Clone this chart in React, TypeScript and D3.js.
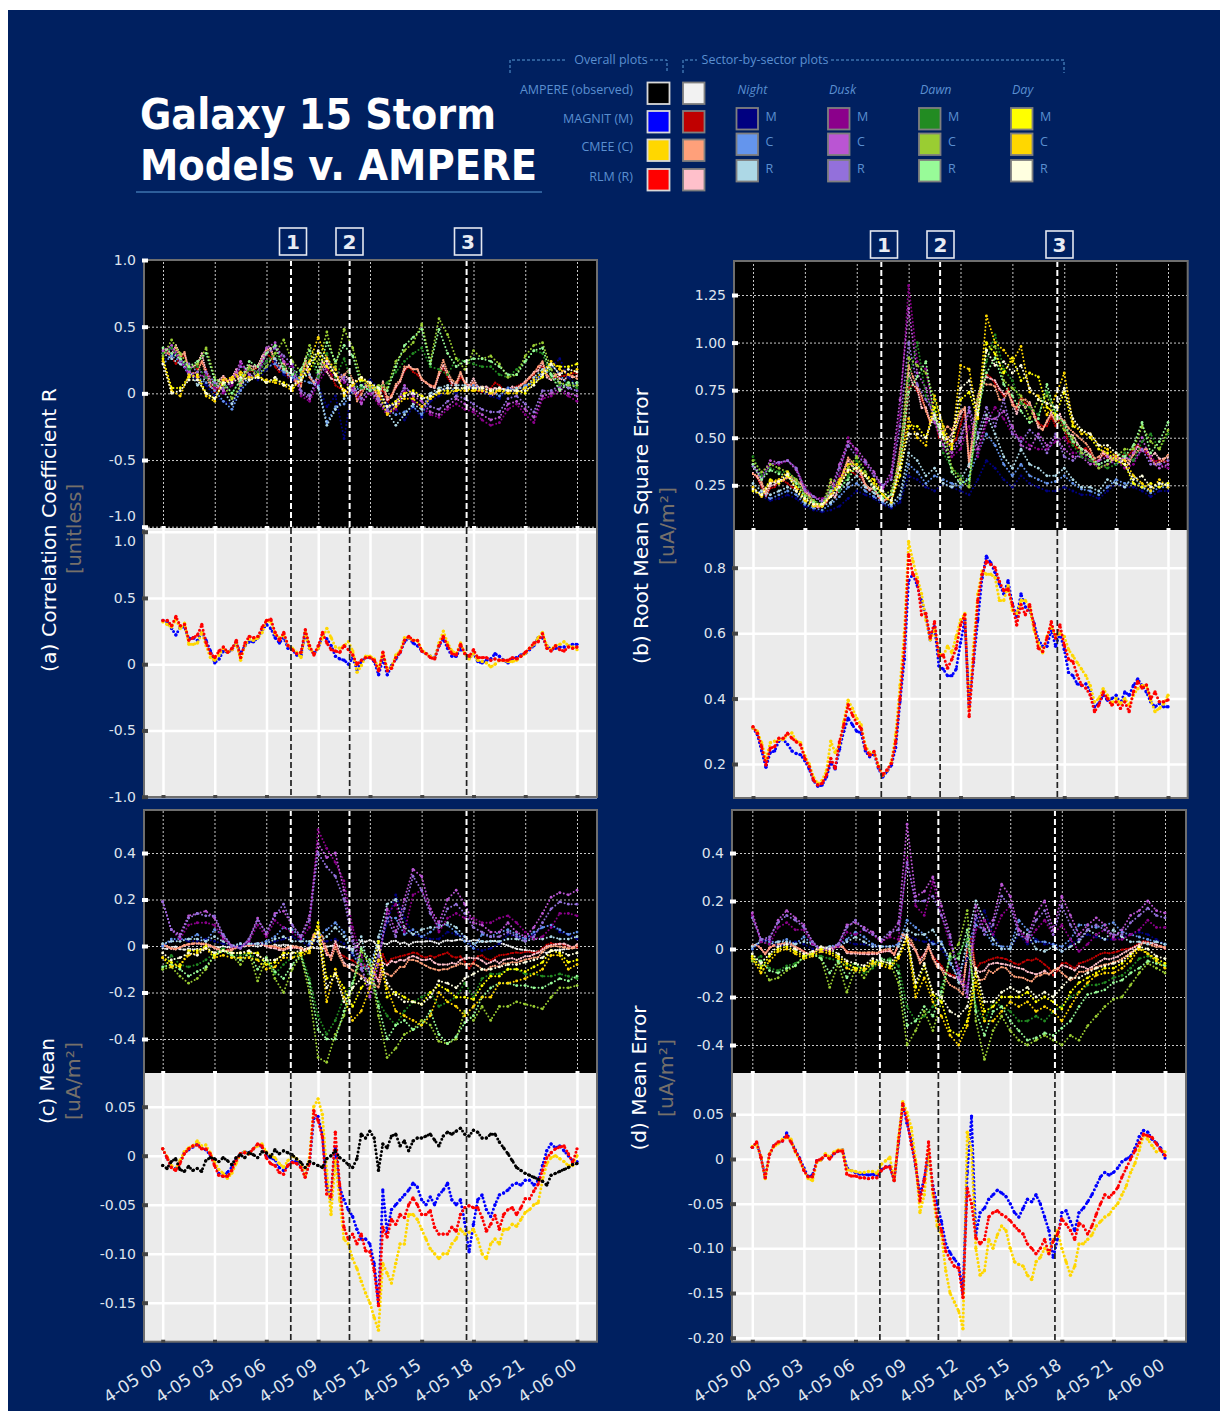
import React, {useRef, useEffect} from 'react'
import * as d3 from 'd3'

// colours, same names as the legend
const NAVY = "#002060"
const LEGEND_BLUE = "#5a8fd0"
const overallColors = {amp: "#000000", magnit: "#0000ff", cmee: "#ffd700", rlm: "#ff0000"}
const overallDarkColors = {amp: "#f2f2f2", magnit: "#c00000", cmee: "#ffa07a", rlm: "#ffc0cb"}
const sectorColors = {
	nightM: "#000080", nightC: "#6495ed", nightR: "#add8e6",
	duskM: "#8b008b", duskC: "#ba55d3", duskR: "#9370db",
	dawnM: "#228b22", dawnC: "#9acd32", dawnR: "#98fb98",
	dayM: "#ffff00", dayC: "#ffd700", dayR: "#ffffe0"
}

const hourTicks = [0, 3, 6, 9, 12, 15, 18, 21, 24]
const hourLabels = ["4-05 00", "4-05 03", "4-05 06", "4-05 09", "4-05 12", "4-05 15", "4-05 18", "4-05 21", "4-06 00"]
const eventHours = [7.42, 10.82, 17.6]

// overall series, every 15 minutes
const corrM = [33,32,27,22,28,28,19,20,18,24,18,10,1,4,10,9,11,16,8,14,17,17,20,26,30,27,20,16,20,12,11,7,7,24,12,8,12,22,19,14,6,4,3,0,5,-4,2,5,5,2,-8,4,-8,-1,4,9,17,20,16,14,10,8,6,5,14,19,12,6,6,12,8,5,8,2,1,3,4,8,6,3,1,4,5,7,8,11,14,20,20,14,11,12,13,13,14,15,15]
const corrC = [32,30,28,34,27,31,15,15,16,24,14,5,3,7,12,9,11,16,3,14,19,18,20,24,33,32,23,20,22,14,12,9,5,24,12,8,12,20,27,20,13,12,14,17,10,-6,-1,6,6,4,-3,8,-3,-2,7,10,20,20,18,18,11,8,6,5,16,25,16,10,8,16,8,4,8,3,2,1,-2,0,3,3,2,2,3,6,8,12,15,20,24,14,11,14,15,17,14,13,11]
const corrR = [33,33,29,36,29,30,18,20,22,30,16,8,5,10,13,9,12,18,5,16,21,20,21,28,33,34,24,18,24,14,11,8,9,26,14,7,14,24,16,11,10,9,14,11,7,0,3,5,5,3,-5,9,-5,-3,5,9,18,21,18,18,10,8,5,4,14,21,14,8,7,15,8,6,11,5,5,5,3,4,3,3,3,5,4,6,9,12,16,17,23,12,10,14,11,10,13,12,13]

const rmsM = [310,290,240,190,235,240,270,275,260,240,232,228,210,185,150,132,136,160,205,185,245,300,340,320,300,295,240,222,232,188,160,178,196,250,390,520,760,780,745,700,650,580,620,500,490,470,470,490,570,640,380,510,640,770,835,815,785,750,720,760,690,650,720,680,670,630,580,560,560,610,560,600,550,480,470,445,440,445,425,375,385,410,395,400,410,385,420,410,440,460,440,420,390,375,385,375,375]
const rmsC = [310,300,265,215,265,270,275,275,290,295,270,265,225,200,160,140,150,180,270,235,260,330,395,370,340,320,255,235,235,195,165,180,205,290,440,600,880,820,770,720,640,580,610,540,530,560,540,590,640,660,370,560,720,790,780,780,770,700,700,745,670,660,700,700,680,610,570,540,590,620,590,600,590,550,530,510,490,470,440,390,400,430,410,385,400,385,400,380,410,430,440,440,395,360,370,385,410]
const rmsR = [314,294,253,197,248,253,279,279,294,279,268,258,217,192,151,136,141,166,217,187,268,319,381,350,324,309,248,227,238,192,166,182,202,268,400,554,840,780,758,656,660,585,635,530,533,493,520,554,625,656,345,520,700,780,820,810,800,758,730,735,687,625,687,656,687,625,554,544,585,635,585,625,564,520,513,472,442,432,411,360,380,420,400,380,390,370,390,360,420,452,432,442,400,420,390,390,396]

const meanAmp = [-10,-13,-6,-3,-14,-16,-11,-15,-13,-16,-5,-2,-3,-6,-2,-5,-9,-2,1,-2,3,1,-2,4,3,-1,6,2,5,3,1,-3,-7,-12,-6,-8,-10,-12,-3,0,5,-2,-5,-9,-12,-3,22,18,25,18,-15,12,8,20,22,10,15,5,15,18,18,20,22,16,10,20,24,22,25,28,22,20,26,24,18,18,22,22,14,8,2,-5,-12,-15,-18,-20,-22,-24,-26,-30,-20,-18,-16,-14,-12,-9,-8]
const meanM = [7,-2,-11,-13,-6,3,6,9,12,8,6,1,-7,-18,-21,-17,-12,-4,2,4,3,7,11,9,0,-2,-4,-12,-15,-10,-6,-6,-10,-20,-8,38,40,22,-30,-44,8,-32,-45,-55,-62,-75,-85,-85,-90,-110,-150,-35,-78,-55,-50,-45,-40,-35,-28,-32,-45,-50,-42,-50,-40,-35,-28,-45,-50,-45,-68,-98,-70,-45,-40,-55,-62,-50,-40,-38,-35,-30,-28,-30,-25,-25,-30,-25,-10,5,12,8,10,5,0,-5,-6]
const meanC = [7,-1,-10,-14,-5,4,8,10,15,10,11,3,-6,-14,-18,-23,-18,-8,2,4,2,7,10,12,4,0,-2,-8,-12,-5,0,-3,-8,-20,-2,50,58,42,-15,-60,-5,-45,-85,-90,-105,-115,-128,-140,-150,-165,-178,-110,-120,-130,-110,-90,-90,-60,-60,-65,-75,-85,-95,-100,-105,-100,-100,-90,-85,-75,-80,-78,-75,-85,-100,-105,-90,-85,-90,-75,-75,-70,-72,-65,-58,-55,-50,-48,-25,-8,-2,0,-3,-6,-10,-10,0]
const meanR = [7,-2,-12,-15,-8,2,7,10,11,7,7,2,-10,-20,-21,-21,-15,-5,2,3,2,7,12,10,-2,-8,-10,-17,-19,-10,-7,-8,-12,-22,-8,46,36,19,-39,-42,24,-29,-73,-85,-80,-90,-80,-97,-98,-117,-153,-73,-83,-65,-70,-60,-63,-50,-43,-50,-60,-60,-56,-73,-80,-80,-80,-73,-77,-60,-53,-51,-53,-53,-63,-77,-70,-61,-75,-60,-55,-53,-60,-53,-44,-44,-36,-29,-15,-2,3,7,9,10,2,-7,7]

const errM = [13,18,2,-20,5,15,18,20,29,20,10,1,-10,-20,-18,-2,-1,4,1,6,9,10,-10,-13,-15,-17,-17,-18,-17,-19,-12,-9,-8,-24,18,60,40,20,-8,-40,-22,4,-30,-50,-70,-95,-105,-112,-118,-150,-15,48,-85,-60,-55,-45,-40,-35,-38,-42,-50,-60,-65,-55,-45,-48,-40,-50,-65,-80,-110,-90,-60,-58,-70,-80,-60,-55,-48,-40,-30,-20,-15,-18,-15,-10,-3,0,3,12,25,32,30,22,18,12,1]
const errC = [14,16,3,-22,6,14,17,22,24,22,8,-1,-12,-22,-24,-4,-1,6,2,8,10,10,-12,-13,-14,-15,-15,-14,-14,-16,-6,-2,2,-24,24,64,52,35,-2,-60,-40,10,-40,-75,-85,-125,-150,-160,-170,-190,30,10,-100,-130,-125,-90,-100,-85,-75,-80,-100,-115,-118,-120,-130,-135,-115,-110,-100,-105,-90,-80,-100,-115,-130,-120,-95,-95,-90,-85,-75,-70,-65,-62,-55,-50,-40,-30,-15,-5,10,26,22,15,8,10,8]
const errR = [13,19,2,-21,5,15,19,20,26,19,9,0,-13,-20,-20,-2,0,4,0,6,9,9,-17,-19,-19,-21,-21,-22,-21,-21,-13,-9,-9,-24,20,62,43,16,-6,-47,-24,19,-34,-65,-80,-103,-112,-120,-122,-155,-33,-50,-88,-95,-90,-65,-60,-58,-62,-65,-69,-75,-80,-84,-95,-100,-106,-100,-90,-106,-92,-84,-67,-73,-80,-90,-72,-75,-84,-75,-62,-50,-40,-43,-38,-32,-20,-10,0,9,18,28,26,24,17,10,4]

// sector series, every 30 minutes
const corrNightM = [24,30,26,16,10,6,-2,-6,-8,4,14,10,18,24,14,10,16,14,6,-10,-2,-34,8,6,10,4,-8,-12,-20,-10,-18,-6,-2,2,0,4,4,2,-2,-4,4,0,4,10,14,20,26,12,6]
const corrNightC = [22,28,24,14,12,8,2,-6,-12,2,10,14,20,22,16,12,10,8,6,-22,-10,-8,2,4,6,2,-12,-16,-14,-10,-16,-2,2,4,2,4,6,4,2,-2,4,2,6,8,16,22,14,6,8]
const corrNightR = [30,26,22,18,6,12,8,2,-8,6,12,16,24,26,18,14,12,14,4,-24,-12,-4,4,6,2,-6,-14,-24,-16,-8,-12,0,4,6,6,6,4,2,0,4,2,4,4,12,18,14,8,4,6]
const corrDuskM = [28,34,24,14,12,14,4,0,6,22,12,14,30,34,24,20,-2,-6,8,18,12,8,4,-6,0,-8,-16,-12,2,-6,-10,-16,-18,-12,-8,-12,-14,-20,-24,-22,-12,-8,-16,-22,-4,-2,2,-2,-6]
const corrDuskC = [32,36,26,16,14,12,6,2,10,24,14,16,34,38,24,18,0,-4,12,22,14,10,2,-8,2,-6,-14,-10,6,-2,-6,-14,-16,-10,-4,-8,-12,-16,-20,-18,-8,-6,-12,-18,-2,0,4,0,-2]
const corrDuskR = [30,34,24,22,16,16,8,4,8,20,18,16,30,34,28,22,2,-2,14,20,18,12,6,-4,4,-4,-12,-6,4,0,-2,-10,-12,-6,-2,-4,-8,-12,-14,-14,-4,-2,-8,-14,2,2,6,4,2]
const corrDawnM = [30,34,26,18,20,12,6,8,0,10,18,16,24,30,20,18,10,28,12,30,12,26,6,4,2,4,8,16,24,30,34,20,18,14,26,24,22,20,20,14,12,18,24,32,30,12,6,8,4]
const corrDawnC = [28,40,30,20,22,34,12,6,-4,6,20,12,20,30,40,24,16,36,22,46,20,48,34,10,4,6,4,24,32,38,52,24,56,44,26,18,32,26,28,22,12,14,28,36,38,18,8,6,6]
const corrDawnR = [34,30,26,20,24,30,10,8,0,10,24,20,30,36,18,14,18,32,16,38,24,36,28,6,2,4,2,20,36,42,48,22,48,30,20,24,26,26,24,20,14,14,24,32,34,14,2,8,8]
const corrDayM = [26,4,4,12,14,0,-4,8,10,14,10,14,8,10,8,4,10,18,30,20,14,2,8,10,8,2,-10,-6,0,2,-2,-4,2,2,2,4,2,4,2,2,2,2,0,8,12,22,20,20,22]
const corrDayC = [24,2,-2,14,12,-2,-6,10,12,16,12,12,10,8,6,2,14,24,42,26,18,-2,6,12,6,0,-16,-10,-4,-4,-10,-4,0,0,2,2,2,2,0,2,0,0,4,10,16,24,18,14,18]
const corrDayR = [22,0,2,10,10,0,-4,8,8,12,10,12,8,12,6,6,10,22,32,24,14,0,8,12,8,4,-10,-8,-2,0,-4,-2,2,4,4,4,4,4,2,4,2,2,2,6,14,22,14,18,16]

const rmsNightM = [22,19,17,18,20,18,14,12,11,12,14,18,22,20,18,15,13,16,30,28,24,22,26,24,22,20,28,38,34,28,24,30,26,24,22,22,24,22,20,20,18,22,26,24,24,22,19,22,22]
const rmsNightC = [23,21,18,20,22,20,15,13,12,15,19,24,26,22,19,16,14,18,36,32,26,30,28,26,24,30,42,52,46,36,30,36,30,28,26,27,30,26,23,22,20,24,28,26,26,24,21,24,24]
const rmsNightR = [26,22,20,22,24,22,16,14,14,16,22,26,30,24,21,17,15,20,42,38,30,34,26,24,28,36,50,62,52,40,34,44,36,34,30,30,34,28,24,24,22,28,26,24,30,24,22,26,26]
const rmsDuskM = [36,28,36,36,38,34,24,19,18,20,30,50,42,36,30,23,30,62,130,90,86,60,44,40,44,56,40,58,66,60,52,50,46,44,44,48,50,42,42,38,34,36,38,34,36,44,40,36,34]
const rmsDuskC = [36,30,38,37,38,33,22,19,17,22,36,48,44,38,32,24,32,70,118,84,76,58,46,42,48,64,44,60,60,64,56,46,44,52,46,50,44,40,40,36,38,40,40,38,42,50,38,34,36]
const rmsDuskR = [35,28,36,37,38,34,23,19,16,20,34,46,40,37,30,25,28,56,100,78,70,62,50,44,50,66,52,66,56,70,52,48,54,50,42,52,40,38,42,40,36,38,36,40,38,44,36,36,38]
const rmsDawnM = [40,30,34,32,32,28,20,17,15,24,22,30,38,30,24,19,20,36,80,100,72,64,42,34,30,26,60,90,104,86,80,68,66,62,74,64,56,46,40,38,36,34,36,42,38,48,52,44,52]
const rmsDawnC = [38,32,36,34,32,28,20,17,14,28,26,34,40,32,25,20,22,40,92,88,84,70,56,34,28,24,70,96,98,80,76,72,60,70,72,60,54,50,42,40,34,36,40,44,44,56,48,44,54]
const rmsDawnR = [36,28,33,31,30,26,19,16,14,22,24,28,36,30,23,18,20,34,74,82,90,60,50,32,26,28,64,84,92,78,72,64,58,60,78,62,58,48,44,40,36,38,42,40,46,58,42,48,58]
const rmsDayM = [22,20,28,26,30,24,18,15,15,19,26,32,34,30,28,20,17,30,56,56,50,66,52,44,70,74,60,100,94,84,92,80,84,82,66,62,74,56,54,50,44,42,38,36,26,24,26,24,26]
const rmsDayC = [24,19,27,28,32,22,17,14,14,20,28,36,36,30,26,20,16,36,60,50,46,72,56,46,88,86,60,114,100,96,90,98,74,72,62,72,84,58,52,52,46,44,40,38,30,26,22,28,24]
const rmsDayR = [23,20,26,27,31,22,18,15,15,19,24,33,34,30,24,22,17,34,52,52,50,62,50,48,76,80,62,96,88,90,84,88,76,70,68,66,76,60,54,52,46,46,42,36,28,30,24,26,25]

const meanNightM = [0,2,3,2,2,3,2,1,0,0,1,1,1,2,3,4,2,0,2,2,3,1,-4,-8,-10,-4,10,22,12,5,4,3,3,6,5,4,-1,-2,-1,1,5,4,3,5,8,9,6,5,3]
const meanNightC = [0,3,3,3,5,2,7,5,0,1,1,1,2,4,8,7,4,1,4,7,10,6,-3,-10,-8,2,12,12,5,7,4,6,9,9,6,2,-1,5,4,6,7,5,3,6,8,9,7,5,6]
const meanNightR = [1,2,2,3,3,2,4,2,0,1,1,1,1,3,4,2,2,2,2,4,8,4,-2,4,-12,4,18,20,8,5,7,8,8,10,8,4,1,2,2,2,3,3,2,3,3,4,3,3,4]
const meanDuskM = [19,7,3,9,10,10,9,3,0,-1,2,9,4,11,8,6,3,8,50,42,36,28,8,-4,-14,-6,14,18,6,22,24,16,6,12,14,12,12,10,10,12,13,10,6,3,4,8,14,14,13]
const meanDuskC = [19,7,5,13,14,15,12,4,0,-1,3,12,5,14,15,9,4,13,44,38,40,24,4,-8,-22,-8,16,6,20,33,30,16,10,20,24,18,10,9,6,6,10,6,4,8,14,21,23,22,24]
const meanDuskR = [19,7,4,12,14,13,13,5,0,-1,3,11,6,13,18,9,4,11,40,34,30,20,2,-10,-18,-4,12,4,16,30,24,14,8,16,18,14,8,6,4,4,6,4,2,4,10,16,19,18,18]
const meanDawnM = [-10,-4,-8,-9,-8,-6,-3,-1,-4,-4,-3,-6,-6,-12,-8,-5,-3,-14,-30,-38,-32,-22,-16,-6,-14,-24,-30,-34,-28,-24,-22,-20,-26,-24,-22,-16,-22,-14,-12,-12,-10,-10,-12,-12,-13,-13,-12,-13,-14]
const meanDawnC = [-10,-9,-13,-16,-14,-10,-4,-2,-4,-8,-3,-15,-5,-14,-20,-10,-4,-20,-48,-50,-38,-30,-18,-2,-8,-30,-48,-44,-38,-36,-32,-34,-41,-42,-40,-28,-32,-26,-32,-26,-26,-24,-25,-26,-27,-22,-18,-18,-17]
const meanDawnR = [-9,-8,-10,-13,-11,-9,-4,-2,-4,-6,-3,-10,-5,-11,-14,-8,-4,-16,-36,-40,-40,-28,-16,-1,-6,-26,-40,-34,-32,-36,-34,-28,-38,-42,-39,-33,-30,-22,-18,-16,-16,-17,-17,-18,-18,-16,-14,-15,-13]
const meanDayM = [-5,-7,-9,-2,-2,0,-4,-2,-3,-3,-3,-3,-8,-7,-3,-3,-3,-2,10,-14,-12,-18,-26,-18,-14,2,-22,-20,-22,-24,-25,-20,-17,-19,-22,-22,-23,-17,-13,-13,-10,-10,-11,-9,-7,-2,-3,-7,-6]
const meanDayC = [-5,-9,-8,-4,-3,-1,-5,-4,-5,-5,-5,-6,-10,-9,-5,-5,-4,-3,8,-24,-10,-22,-32,-28,-18,-6,-18,-28,-30,-32,-34,-30,-20,-24,-26,-30,-26,-22,-22,-16,-16,-15,-14,-12,-10,-4,-4,-10,-8]
const meanDayR = [-3,-6,-5,-3,-4,-1,-3,-2,-3,-3,-2,-4,-6,-6,-4,-3,-2,-1,6,-18,-12,-24,-18,-14,-16,0,-16,-21,-24,-24,-25,-22,-15,-16,-18,-14,-12,-10,-10,-9,-8,-8,-7,-6,-5,-2,-2,-4,-3]

const errNightM = [0,3,4,1,2,3,2,0,-1,0,2,3,2,2,1,1,1,2,6,4,3,3,0,-6,-10,-4,12,16,6,0,0,6,2,4,2,2,-1,2,4,6,5,4,4,5,6,7,6,4,2]
const errNightC = [0,4,3,3,4,2,5,2,0,1,2,4,7,5,2,1,1,2,12,9,6,2,3,-6,-12,2,10,8,2,1,1,12,8,3,3,2,1,4,10,10,9,10,11,7,6,5,4,3,2]
const errNightR = [1,3,2,3,3,2,3,2,0,1,1,3,5,3,1,1,1,1,8,6,6,8,2,-4,-14,4,20,12,4,0,0,8,6,0,-1,1,-1,1,3,8,6,4,8,5,3,3,2,3,2]
const errDuskM = [14,3,2,9,11,8,8,2,0,-1,1,7,6,8,6,3,5,4,38,18,14,28,14,2,-8,-16,8,12,6,14,18,8,3,8,12,6,10,4,-1,2,6,8,4,4,6,8,12,9,9]
const errDuskC = [15,4,4,12,16,13,10,3,-1,0,2,10,11,9,7,3,6,11,52,22,24,30,18,6,-12,-20,18,8,12,27,22,8,5,15,20,8,22,14,6,10,13,10,5,8,14,16,20,16,15]
const errDuskR = [13,4,5,11,14,12,9,3,0,0,2,9,12,8,6,4,7,8,36,20,20,22,14,5,-10,-18,14,6,10,22,18,6,4,12,16,6,18,10,4,8,10,8,6,6,11,14,17,14,13]
const errDawnM = [-5,-3,-8,-9,-7,-6,-4,-2,-3,-4,-5,-7,-6,-10,-8,-5,-4,-7,-24,-30,-28,-24,-16,-4,-2,4,-24,-30,-22,-24,-26,-30,-30,-28,-30,-26,-24,-20,-18,-15,-15,-14,-12,-11,-8,-4,-3,-5,-7]
const errDawnC = [-5,-7,-13,-12,-9,-7,-3,-2,-4,-16,-6,-18,-8,-12,-7,-5,-6,-14,-40,-34,-26,-34,-22,-2,2,16,-30,-46,-34,-28,-34,-38,-40,-38,-36,-38,-40,-36,-38,-32,-28,-24,-21,-20,-15,-10,-6,-8,-10]
const errDawnR = [-4,-5,-9,-10,-8,-7,-3,-2,-4,-10,-5,-12,-6,-9,-6,-4,-5,-10,-32,-30,-24,-28,-18,-3,-4,8,-26,-36,-26,-24,-30,-34,-38,-37,-35,-36,-33,-30,-24,-19,-18,-17,-14,-13,-10,-8,-5,-6,-7]
const errDayM = [-3,-8,-3,0,1,-1,-3,-2,0,-1,-3,-6,-8,-8,-5,-6,-7,-3,5,-16,-7,-19,-22,-34,-36,-30,-10,-26,-24,-20,-20,-20,-18,-22,-20,-22,-25,-18,-14,-12,-10,-8,-8,-6,-3,1,-2,-4,-6]
const errDayC = [-4,-10,-5,-1,0,-2,-4,-3,-1,-2,-4,-8,-9,-9,-6,-7,-8,-4,4,-20,-12,-22,-28,-36,-40,-32,-14,-30,-30,-26,-22,-24,-22,-26,-24,-26,-30,-24,-18,-14,-11,-10,-10,-8,-5,0,-2,-5,-8]
const errDayR = [-2,-6,-2,1,2,0,-2,-1,1,0,-2,-5,-6,-7,-4,-5,-6,-2,6,-14,-6,-18,-20,-26,-28,-24,-8,-22,-22,-18,-16,-18,-16,-20,-18,-20,-16,-12,-12,-10,-8,-7,-6,-5,-2,1,0,-3,-4]

const SECTOR_KEYS = ["nightM", "nightC", "nightR", "duskM", "duskC", "duskR", "dawnM", "dawnC", "dawnR", "dayM", "dayC", "dayR"]
const sectorsOf = (list) => list.map((values, i) => ({values, color: sectorColors[SECTOR_KEYS[i]]}))

const corrSectors = sectorsOf([corrNightM, corrNightC, corrNightR, corrDuskM, corrDuskC, corrDuskR, corrDawnM, corrDawnC, corrDawnR, corrDayM, corrDayC, corrDayR])
const rmsSectors = sectorsOf([rmsNightM, rmsNightC, rmsNightR, rmsDuskM, rmsDuskC, rmsDuskR, rmsDawnM, rmsDawnC, rmsDawnR, rmsDayM, rmsDayC, rmsDayR])
const meanSectors = sectorsOf([meanNightM, meanNightC, meanNightR, meanDuskM, meanDuskC, meanDuskR, meanDawnM, meanDawnC, meanDawnR, meanDayM, meanDayC, meanDayR])
const errSectors = sectorsOf([errNightM, errNightC, errNightR, errDuskM, errDuskC, errDuskR, errDawnM, errDawnC, errDawnR, errDayM, errDayC, errDayR])

const panels = [
	{
		left: 144, right: 597, x0: 163, x24: 577, topY: 260, midY: 528, botY: 797, overallUnit: 100,
		darkDomain: [1, -1], darkRange: [260, 526.7], darkTicks: [1, 0.5, 0, -0.5, -1], darkLabels: ["1.0", "0.5", "0", "-0.5", "-1.0"],
		lightDomain: [1, -1], lightRange: [531.7, 796.7], lightTicks: [1, 0.5, 0, -0.5, -1], lightLabels: ["1.0", "0.5", "0", "-0.5", "-1.0"],
		darkShift: {"-1.0": -11}, lightShift: {"1.0": 9},
		sectors: corrSectors, m: corrM, c: corrC, r: corrR, amp: null,
		title: "(a) Correlation Coefficient R", titleX: 56, titleY: 530, titleLen: 284, unit: "[unitless]", unitX: 81, unitY: 529, unitLen: 90,
		boxes: [293, 349.5, 468], boxTop: 228
	},
	{
		left: 734, right: 1187.7, x0: 753, x24: 1168, topY: 261, midY: 530, botY: 798, overallUnit: 1000,
		darkDomain: [1.25, 0.25], darkRange: [295, 485.3], darkTicks: [1.25, 1, 0.75, 0.5, 0.25], darkLabels: ["1.25", "1.00", "0.75", "0.50", "0.25"],
		lightDomain: [0.8, 0.2], lightRange: [567.7, 764], lightTicks: [0.8, 0.6, 0.4, 0.2], lightLabels: ["0.8", "0.6", "0.4", "0.2"],
		darkShift: {}, lightShift: {},
		sectors: rmsSectors, m: rmsM, c: rmsC, r: rmsR, amp: null,
		title: "(b) Root Mean Square Error", titleX: 648, titleY: 526, titleLen: 276, unit: "[uA/m²]", unitX: 674, unitY: 526, unitLen: 78,
		boxes: [884, 940.5, 1059.5], boxTop: 231
	},
	{
		left: 144, right: 597, x0: 162.7, x24: 577, topY: 810, midY: 1073, botY: 1341.7, overallUnit: 1000,
		darkDomain: [0.4, -0.4], darkRange: [853, 1039], darkTicks: [0.4, 0.2, 0, -0.2, -0.4], darkLabels: ["0.4", "0.2", "0", "-0.2", "-0.4"],
		lightDomain: [0.05, -0.15], lightRange: [1106.7, 1302.7], lightTicks: [0.05, 0, -0.05, -0.1, -0.15], lightLabels: ["0.05", "0", "-0.05", "-0.10", "-0.15"],
		darkShift: {}, lightShift: {},
		sectors: meanSectors, m: meanM, c: meanC, r: meanR, amp: meanAmp,
		title: "(c) Mean", titleX: 54, titleY: 1081, titleLen: 86, unit: "[uA/m²]", unitX: 80, unitY: 1081, unitLen: 78,
		boxes: [], boxTop: 0
	},
	{
		left: 732, right: 1186, x0: 752.3, x24: 1165, topY: 810, midY: 1073, botY: 1341.7, overallUnit: 1000,
		darkDomain: [0.4, -0.4], darkRange: [853, 1045], darkTicks: [0.4, 0.2, 0, -0.2, -0.4], darkLabels: ["0.4", "0.2", "0", "-0.2", "-0.4"],
		lightDomain: [0.05, -0.2], lightRange: [1114.3, 1337.7], lightTicks: [0.05, 0, -0.05, -0.1, -0.15, -0.2], lightLabels: ["0.05", "0", "-0.05", "-0.10", "-0.15", "-0.20"],
		darkShift: {}, lightShift: {},
		sectors: errSectors, m: errM, c: errC, r: errR, amp: null,
		title: "(d) Mean Error", titleX: 646, titleY: 1078, titleLen: 145, unit: "[uA/m²]", unitX: 673, unitY: 1078, unitLen: 78,
		boxes: [], boxTop: 0
	}
]

const overallRows = [
	{label: "AMPERE (observed)", a: overallColors.amp, b: overallDarkColors.amp, y: 81.5, border: "#d9d9d9"},
	{label: "MAGNIT (M)", a: overallColors.magnit, b: overallDarkColors.magnit, y: 110, border: "#d9d9d9"},
	{label: "CMEE (C)", a: overallColors.cmee, b: overallDarkColors.cmee, y: 138.5, border: "#d9d9d9"},
	{label: "RLM (R)", a: overallColors.rlm, b: overallDarkColors.rlm, y: 168, border: "#d9d9d9"}
]
const sectorCols = [
	{name: "Night", x: 735.5, keys: ["nightM", "nightC", "nightR"]},
	{name: "Dusk", x: 827, keys: ["duskM", "duskC", "duskR"]},
	{name: "Dawn", x: 918, keys: ["dawnM", "dawnC", "dawnR"]},
	{name: "Day", x: 1010, keys: ["dayM", "dayC", "dayR"]}
]
const sectorRowY = [107, 132.5, 159]
const sectorRowLetters = ["M", "C", "R"]

const TICK_FONT = "'DejaVu Sans', sans-serif"
const LEGEND_FONT = "'Open Sans', sans-serif"

function drawPanel(svg, p, index) {
	const x = d3.scaleLinear().domain([0, 24]).range([p.x0, p.x24])
	const yDark = d3.scaleLinear().domain(p.darkDomain).range(p.darkRange)
	const yLight = d3.scaleLinear().domain(p.lightDomain).range(p.lightRange)
	const width = p.right - p.left

	const xOf = (values, i) => x(i * 24 / (values.length - 1))
	const lineFor = (values, y, unit) => d3.line()
		.x((d, i) => xOf(values, i))
		.y((d) => y(d / unit))(values)

	// a dotted trace plus a dot on every read value
	const drawTraces = (parent, series, y, unit, sw, dash, radius, cls) => {
		series.forEach((s, k) => {
			const tg = parent.append("g").attr("class", `${cls}${k}`)
			tg.append("path")
				.attr("d", lineFor(s.values, y, unit))
				.attr("fill", "none").attr("stroke", s.color).attr("stroke-width", sw)
				.attr("stroke-linecap", "round").attr("stroke-dasharray", dash)
			tg.selectAll("circle").data(s.values).join("circle")
				.attr("cx", (d, i) => xOf(s.values, i))
				.attr("cy", d => y(d / unit))
				.attr("r", radius)
				.attr("fill", s.color)
		})
	}

	const defs = svg.append("defs")
	defs.append("clipPath").attr("id", `clipDark${index}`).append("rect")
		.attr("x", p.left).attr("y", p.topY).attr("width", width).attr("height", p.midY - p.topY)
	defs.append("clipPath").attr("id", `clipLight${index}`).append("rect")
		.attr("x", p.left).attr("y", p.midY).attr("width", width).attr("height", p.botY - p.midY)

	const g = svg.append("g")
	g.append("rect").attr("x", p.left).attr("y", p.topY).attr("width", width).attr("height", p.midY - p.topY).attr("fill", "#000")
	g.append("rect").attr("x", p.left).attr("y", p.midY).attr("width", width).attr("height", p.botY - p.midY).attr("fill", "#ebebeb")

	// grid, dotted on black and solid white on grey
	const gridH = (scale, ticks, stroke, sw, dash) => {
		g.append("g")
			.attr("transform", `translate(${p.left},0)`)
			.call(d3.axisLeft(scale).tickValues(ticks).tickSize(-width).tickFormat(""))
			.call(s => s.select(".domain").remove())
			.selectAll("line").attr("stroke", stroke).attr("stroke-width", sw).attr("stroke-dasharray", dash)
	}
	const gridV = (y0, y1, stroke, sw, dash) => {
		g.append("g")
			.attr("transform", `translate(0,${y1})`)
			.call(d3.axisBottom(x).tickValues(hourTicks).tickSize(-(y1 - y0)).tickFormat(""))
			.call(s => s.select(".domain").remove())
			.selectAll("line").attr("stroke", stroke).attr("stroke-width", sw).attr("stroke-dasharray", dash)
	}
	gridH(yDark, p.darkTicks, "#c8c8c8", 1, "2 2")
	gridV(p.topY, p.midY, "#c8c8c8", 1, "2 2")
	gridH(yLight, p.lightTicks, "#ffffff", 2.5, null)
	gridV(p.midY, p.botY, "#ffffff", 2.5, null)

	// dark half: overall first, then the sectors
	const dark = g.append("g").attr("clip-path", `url(#clipDark${index})`)
	const darkOverall = [
		{values: p.m, color: overallDarkColors.magnit},
		{values: p.r, color: overallDarkColors.rlm},
		{values: p.c, color: overallDarkColors.cmee}
	]
	if (p.amp) darkOverall.unshift({values: p.amp, color: overallDarkColors.amp})
	drawTraces(dark, darkOverall, yDark, p.overallUnit, 2, "0 2.4", 1.1, "overall")
	drawTraces(dark, p.sectors, yDark, 100, 2, "0 3.6", 1.4, "sector")

	// light half
	const light = g.append("g").attr("clip-path", `url(#clipLight${index})`)
	const lightSeries = [
		{values: p.m, color: overallColors.magnit},
		{values: p.c, color: overallColors.cmee},
		{values: p.r, color: overallColors.rlm}
	]
	if (p.amp) lightSeries.push({values: p.amp, color: overallColors.amp})
	drawTraces(light, lightSeries, yLight, p.overallUnit, 3, "0 4", 1.7, "overallLight")

	// event lines
	const events = g.append("g")
	events.selectAll(".evDark").data(eventHours).join("line")
		.attr("class", "evDark")
		.attr("x1", d => x(d)).attr("x2", d => x(d)).attr("y1", p.topY).attr("y2", p.midY)
		.attr("stroke", "#fff").attr("stroke-width", 2).attr("stroke-dasharray", "6 3")
	events.selectAll(".evLight").data(eventHours).join("line")
		.attr("class", "evLight")
		.attr("x1", d => x(d)).attr("x2", d => x(d)).attr("y1", p.midY).attr("y2", p.botY)
		.attr("stroke", "#222").attr("stroke-width", 1.7).attr("stroke-dasharray", "6 3")

	// frame
	g.append("rect").attr("x", p.left).attr("y", p.topY).attr("width", width).attr("height", p.botY - p.topY)
		.attr("fill", "none").attr("stroke", "#6e6e6e").attr("stroke-width", 2)

	// y axes, small square ticks across the frame
	const yAxis = (scale, ticks, labels, tickColor, shift) => {
		g.append("g")
			.attr("transform", `translate(${p.left + 4},0)`)
			.call(d3.axisLeft(scale).tickValues(ticks).tickSize(6).tickPadding(6)
				.tickFormat((d, i) => labels[i]))
			.call(s => s.select(".domain").remove())
			.call(s => s.selectAll("line").attr("stroke", tickColor).attr("stroke-width", 4))
			.call(s => s.selectAll("text")
				.attr("fill", "#dfe4ee").attr("font-size", 14).attr("font-family", TICK_FONT)
				.attr("y", (d, i) => shift[labels[i]] || 0))
	}
	yAxis(yDark, p.darkTicks, p.darkLabels, "#ffffff", p.darkShift)
	yAxis(yLight, p.lightTicks, p.lightLabels, "#444444", p.lightShift)

	// x ticks at the foot of each half
	const xStubs = (yPos, color) => {
		g.append("g").attr("transform", `translate(0,${yPos - 2})`)
			.call(d3.axisBottom(x).tickValues(hourTicks).tickSize(3).tickFormat(""))
			.call(s => s.select(".domain").remove())
			.selectAll("line").attr("stroke", color).attr("stroke-width", 4)
	}
	xStubs(p.midY, "#ffffff")
	xStubs(p.botY, "#444444")

	if (index >= 2) {
		g.selectAll(".hourLabel").data(hourTicks).join("text")
			.attr("class", "hourLabel")
			.attr("transform", d => `translate(${x(d) - 2},${p.botY + 22}) rotate(-33)`)
			.attr("text-anchor", "end")
			.attr("dominant-baseline", "middle")
			.attr("fill", "#dfe4ee").attr("font-size", 17).attr("font-family", TICK_FONT)
			.text((d, i) => hourLabels[i])
	}

	// side titles
	g.append("text")
		.attr("transform", `translate(${p.titleX},${p.titleY}) rotate(-90)`)
		.attr("text-anchor", "middle").attr("fill", "#ffffff")
		.attr("font-size", 20).attr("font-family", TICK_FONT)
		.attr("textLength", p.titleLen).attr("lengthAdjust", "spacingAndGlyphs")
		.text(p.title)
	g.append("text")
		.attr("transform", `translate(${p.unitX},${p.unitY}) rotate(-90)`)
		.attr("text-anchor", "middle").attr("fill", "#76706a")
		.attr("font-size", 19).attr("font-family", TICK_FONT)
		.attr("textLength", p.unitLen).attr("lengthAdjust", "spacingAndGlyphs")
		.text(p.unit)

	// numbered event boxes
	p.boxes.forEach((cx, i) => {
		g.append("rect").attr("x", cx - 13.5).attr("y", p.boxTop).attr("width", 27).attr("height", 27)
			.attr("fill", NAVY).attr("stroke", "#e4e8f0").attr("stroke-width", 1.6)
		g.append("text").attr("x", cx).attr("y", p.boxTop + 21)
			.attr("text-anchor", "middle").attr("fill", "#e8ecf4")
			.attr("font-size", 20).attr("font-weight", "bold").attr("font-family", TICK_FONT)
			.text(i + 1)
	})
}

function drawHeader(svg) {
	const g = svg.append("g")
	g.append("text").attr("x", 140).attr("y", 129).attr("fill", "#fff")
		.attr("font-size", 42).attr("font-weight", "bold").attr("font-family", TICK_FONT)
		.attr("textLength", 356).attr("lengthAdjust", "spacingAndGlyphs").text("Galaxy 15 Storm")
	g.append("text").attr("x", 140).attr("y", 180).attr("fill", "#fff")
		.attr("font-size", 42).attr("font-weight", "bold").attr("font-family", TICK_FONT)
		.attr("textLength", 397).attr("lengthAdjust", "spacingAndGlyphs").text("Models v. AMPERE")
	g.append("line").attr("x1", 136).attr("x2", 542).attr("y1", 192).attr("y2", 192)
		.attr("stroke", "#5b9bd5").attr("stroke-width", 1)

	const bracket = (d) => g.append("path").attr("d", d).attr("fill", "none")
		.attr("stroke", "#5b9bd5").attr("stroke-width", 1).attr("stroke-dasharray", "3 2")
	bracket("M510,73 V60 H565")
	bracket("M650,60 H667 V73")
	bracket("M683,73 V60 H697")
	bracket("M831,60 H1064 V73")

	const label = (x, y, txt, anchor = "start", italic = false, size = 12.5) => g.append("text")
		.attr("x", x).attr("y", y).attr("fill", LEGEND_BLUE).attr("text-anchor", anchor)
		.attr("dominant-baseline", "middle").attr("font-size", size).attr("font-family", LEGEND_FONT)
		.attr("font-style", italic ? "italic" : "normal").text(txt)
	label(611, 60.5, "Overall plots", "middle", false, 12.5)
	label(765, 60.5, "Sector-by-sector plots", "middle", false, 12.5)

	overallRows.forEach(row => {
		label(633, row.y + 9.5, row.label, "end")
		g.append("rect").attr("x", 647.5).attr("y", row.y + 1).attr("width", 22).attr("height", 21.5)
			.attr("fill", row.a).attr("stroke", row.border).attr("stroke-width", 1.8)
		g.append("rect").attr("x", 683).attr("y", row.y + 1).attr("width", 21.5).attr("height", 21.5)
			.attr("fill", row.b).attr("stroke", "#7f7f7f").attr("stroke-width", 1.8)
	})
	sectorCols.forEach(col => {
		label(col.x + 2, 91, col.name, "start", true)
		col.keys.forEach((key, i) => {
			g.append("rect").attr("x", col.x + 1).attr("y", sectorRowY[i] + 1).attr("width", 21.5).attr("height", 21.5)
				.attr("fill", sectorColors[key]).attr("stroke", "#7f7f7f").attr("stroke-width", 1.8)
			label(col.x + 30, sectorRowY[i] + 10.5, sectorRowLetters[i])
		})
	})
}

export default function App() {
	const ref = useRef(null)

	useEffect(() => {
		const svg = d3.select(ref.current)
		svg.selectAll("*").remove()
		svg.append("rect").attr("x", 8).attr("y", 10).attr("width", 1212).attr("height", 1401).attr("fill", NAVY)
		drawHeader(svg)
		panels.forEach((p, i) => drawPanel(svg, p, i))
	}, [])

	return (
		<svg ref={ref} width={1220} height={1411}
			style={{position: "absolute", left: 0, top: 0, background: "#fff"}} />
	)
}
